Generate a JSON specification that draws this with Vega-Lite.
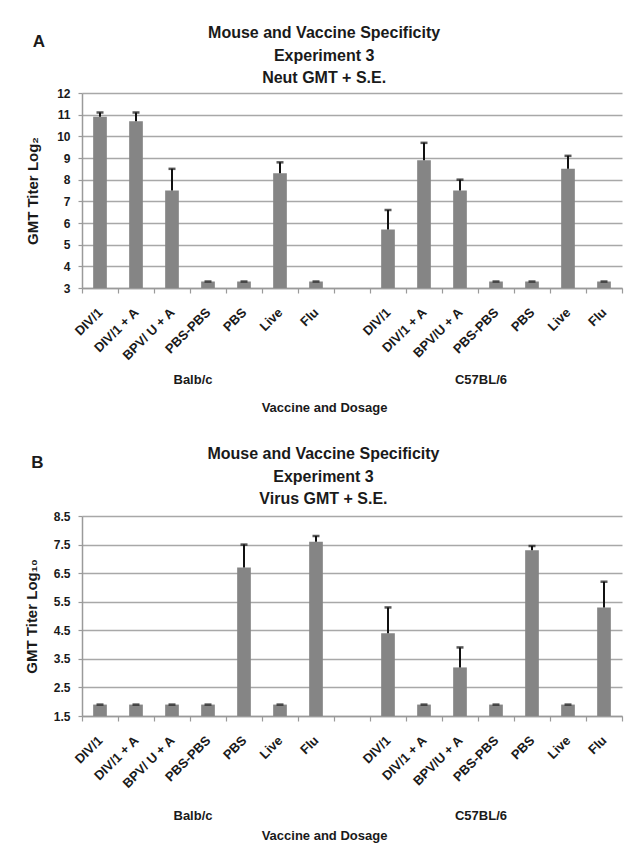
{
  "$schema": "https://vega.github.io/schema/vega-lite/v6.json",
  "padding": {"left": 24, "top": 25, "right": 5, "bottom": 5},
  "spacing": 32,
  "datasets": {
    "neut": [
      {"key": "Balb/c|DIV/1", "value": 10.9, "upper": 11.1},
      {"key": "Balb/c|DIV/1 + A", "value": 10.7, "upper": 11.1},
      {"key": "Balb/c|BPV/ U + A", "value": 7.5, "upper": 8.5},
      {"key": "Balb/c|PBS-PBS", "value": 3.3, "upper": 3.3},
      {"key": "Balb/c|PBS", "value": 3.3, "upper": 3.3},
      {"key": "Balb/c|Live", "value": 8.3, "upper": 8.8},
      {"key": "Balb/c|Flu", "value": 3.3, "upper": 3.3},
      {"key": "C57BL/6|DIV/1", "value": 5.7, "upper": 6.6},
      {"key": "C57BL/6|DIV/1 + A", "value": 8.9, "upper": 9.7},
      {"key": "C57BL/6|BPV/U + A", "value": 7.5, "upper": 8.0},
      {"key": "C57BL/6|PBS-PBS", "value": 3.3, "upper": 3.3},
      {"key": "C57BL/6|PBS", "value": 3.3, "upper": 3.3},
      {"key": "C57BL/6|Live", "value": 8.5, "upper": 9.1},
      {"key": "C57BL/6|Flu", "value": 3.3, "upper": 3.3}
    ],
    "virus": [
      {"key": "Balb/c|DIV/1", "value": 1.9, "upper": 1.9},
      {"key": "Balb/c|DIV/1 + A", "value": 1.9, "upper": 1.9},
      {"key": "Balb/c|BPV/ U + A", "value": 1.9, "upper": 1.9},
      {"key": "Balb/c|PBS-PBS", "value": 1.9, "upper": 1.9},
      {"key": "Balb/c|PBS", "value": 6.7, "upper": 7.5},
      {"key": "Balb/c|Live", "value": 1.9, "upper": 1.9},
      {"key": "Balb/c|Flu", "value": 7.6, "upper": 7.8},
      {"key": "C57BL/6|DIV/1", "value": 4.4, "upper": 5.3},
      {"key": "C57BL/6|DIV/1 + A", "value": 1.9, "upper": 1.9},
      {"key": "C57BL/6|BPV/U + A", "value": 3.2, "upper": 3.9},
      {"key": "C57BL/6|PBS-PBS", "value": 1.9, "upper": 1.9},
      {"key": "C57BL/6|PBS", "value": 7.3, "upper": 7.45},
      {"key": "C57BL/6|Live", "value": 1.9, "upper": 1.9},
      {"key": "C57BL/6|Flu", "value": 5.3, "upper": 6.2}
    ]
  },
  "vconcat": [
    {
      "title": {"text": "A", "anchor": "start", "fontSize": 17, "offset": 0, "dy": 26, "dx": 7},
      "vconcat": [
        {
          "width": 540,
          "height": 195,
          "title": {"text": ["Mouse and Vaccine Specificity", "Experiment 3", "Neut GMT + S.E."], "anchor": "middle", "frame": "bounds", "fontSize": 16, "lineHeight": 22.5, "offset": 1},
          "data": {"name": "neut"},
          "resolve": {"axis": {"x": "independent"}},
          "layer": [
            {
              "mark": {"type": "bar", "color": "#858585", "width": {"band": 0.38}},
              "encoding": {
                "x": {"field": "key", "type": "nominal", "sort": null,
                  "scale": {"domain": ["Balb/c|DIV/1", "Balb/c|DIV/1 + A", "Balb/c|BPV/ U + A", "Balb/c|PBS-PBS", "Balb/c|PBS", "Balb/c|Live", "Balb/c|Flu", "gap", "C57BL/6|DIV/1", "C57BL/6|DIV/1 + A", "C57BL/6|BPV/U + A", "C57BL/6|PBS-PBS", "C57BL/6|PBS", "C57BL/6|Live", "C57BL/6|Flu"], "paddingInner": 0, "paddingOuter": 0},
                  "axis": {"orient": "bottom", "title": null, "labelAngle": -45, "labelAlign": "right", "labelBaseline": "middle", "labelFontSize": 13, "labelExpr": "split(datum.value, '|')[1] || ''", "tickBand": "extent", "tickSize": 5, "labelPadding": 17, "labelOverlap": false, "labelBound": false, "grid": false}},
                "y": {"field": "value", "type": "quantitative",
                  "scale": {"domain": [3, 12], "nice": false, "zero": false},
                  "axis": {"values": [3, 4, 5, 6, 7, 8, 9, 10, 11, 12], "labelOverlap": false, "title": "GMT Titer Log₂", "titleFontSize": 15, "grid": true, "tickSize": 4, "labelPadding": 8, "titlePadding": 16}},
                "y2": {"datum": 3}
              }
            },
            {
              "mark": {"type": "rule", "color": "#111111", "strokeWidth": 2},
              "encoding": {
                "x": {"field": "key", "type": "nominal", "sort": null,
                  "scale": {"domain": ["Balb/c|DIV/1", "Balb/c|DIV/1 + A", "Balb/c|BPV/ U + A", "Balb/c|PBS-PBS", "Balb/c|PBS", "Balb/c|Live", "Balb/c|Flu", "gap", "C57BL/6|DIV/1", "C57BL/6|DIV/1 + A", "C57BL/6|BPV/U + A", "C57BL/6|PBS-PBS", "C57BL/6|PBS", "C57BL/6|Live", "C57BL/6|Flu"], "paddingInner": 0, "paddingOuter": 0},
                  "axis": null},
                "y": {"field": "value", "type": "quantitative",
                  "axis": {"values": [3, 4, 5, 6, 7, 8, 9, 10, 11, 12], "labelOverlap": false, "title": "GMT Titer Log₂", "titleFontSize": 15, "grid": true, "tickSize": 4, "labelPadding": 8, "titlePadding": 16}},
                "y2": {"field": "upper"}
              }
            },
            {
              "mark": {"type": "tick", "color": "#111111", "size": 7, "thickness": 2.5},
              "encoding": {
                "x": {"field": "key", "type": "nominal", "sort": null,
                  "scale": {"domain": ["Balb/c|DIV/1", "Balb/c|DIV/1 + A", "Balb/c|BPV/ U + A", "Balb/c|PBS-PBS", "Balb/c|PBS", "Balb/c|Live", "Balb/c|Flu", "gap", "C57BL/6|DIV/1", "C57BL/6|DIV/1 + A", "C57BL/6|BPV/U + A", "C57BL/6|PBS-PBS", "C57BL/6|PBS", "C57BL/6|Live", "C57BL/6|Flu"], "paddingInner": 0, "paddingOuter": 0},
                  "axis": {"orient": "bottom", "offset": 85, "labelExpr": "datum.value == 'Balb/c|PBS-PBS' ? 'Balb/c' : datum.value == 'C57BL/6|PBS-PBS' ? 'C57BL/6' : ''", "labelAngle": 0, "labelAlign": "center", "labelBaseline": "top", "labelOffset": -15, "ticks": false, "domain": false, "grid": false, "labelPadding": 0, "labelFontSize": 13, "labelOverlap": false, "labelBound": false, "title": "Vaccine and Dosage", "titleX": 242, "titlePadding": 15}},
                "y": {"field": "upper", "type": "quantitative",
                  "axis": {"values": [3, 4, 5, 6, 7, 8, 9, 10, 11, 12], "labelOverlap": false, "title": "GMT Titer Log₂", "titleFontSize": 15, "grid": true, "tickSize": 4, "labelPadding": 8, "titlePadding": 16}}
              }
            }
          ]
        }
      ]
    },
    {
      "title": {"text": "B", "anchor": "start", "fontSize": 17, "offset": 0, "dy": 26, "dx": 7},
      "vconcat": [
        {
          "width": 540,
          "height": 200,
          "title": {"text": ["Mouse and Vaccine Specificity", "Experiment 3", "Virus GMT + S.E."], "anchor": "middle", "frame": "bounds", "fontSize": 16, "lineHeight": 22.5, "offset": 3},
          "data": {"name": "virus"},
          "resolve": {"axis": {"x": "independent"}},
          "layer": [
            {
              "mark": {"type": "bar", "color": "#858585", "width": {"band": 0.38}},
              "encoding": {
                "x": {"field": "key", "type": "nominal", "sort": null,
                  "scale": {"domain": ["Balb/c|DIV/1", "Balb/c|DIV/1 + A", "Balb/c|BPV/ U + A", "Balb/c|PBS-PBS", "Balb/c|PBS", "Balb/c|Live", "Balb/c|Flu", "gap", "C57BL/6|DIV/1", "C57BL/6|DIV/1 + A", "C57BL/6|BPV/U + A", "C57BL/6|PBS-PBS", "C57BL/6|PBS", "C57BL/6|Live", "C57BL/6|Flu"], "paddingInner": 0, "paddingOuter": 0},
                  "axis": {"orient": "bottom", "title": null, "labelAngle": -45, "labelAlign": "right", "labelBaseline": "middle", "labelFontSize": 13, "labelExpr": "split(datum.value, '|')[1] || ''", "tickBand": "extent", "tickSize": 5, "labelPadding": 17, "labelOverlap": false, "labelBound": false, "grid": false}},
                "y": {"field": "value", "type": "quantitative",
                  "scale": {"domain": [1.5, 8.5], "nice": false, "zero": false},
                  "axis": {"values": [1.5, 2.5, 3.5, 4.5, 5.5, 6.5, 7.5, 8.5], "format": ".1f", "labelOverlap": false, "title": "GMT Titer Log₁₀", "titleFontSize": 15, "grid": true, "tickSize": 4, "labelPadding": 8, "titlePadding": 14}},
                "y2": {"datum": 1.5}
              }
            },
            {
              "mark": {"type": "rule", "color": "#111111", "strokeWidth": 2},
              "encoding": {
                "x": {"field": "key", "type": "nominal", "sort": null,
                  "scale": {"domain": ["Balb/c|DIV/1", "Balb/c|DIV/1 + A", "Balb/c|BPV/ U + A", "Balb/c|PBS-PBS", "Balb/c|PBS", "Balb/c|Live", "Balb/c|Flu", "gap", "C57BL/6|DIV/1", "C57BL/6|DIV/1 + A", "C57BL/6|BPV/U + A", "C57BL/6|PBS-PBS", "C57BL/6|PBS", "C57BL/6|Live", "C57BL/6|Flu"], "paddingInner": 0, "paddingOuter": 0},
                  "axis": null},
                "y": {"field": "value", "type": "quantitative",
                  "axis": {"values": [1.5, 2.5, 3.5, 4.5, 5.5, 6.5, 7.5, 8.5], "format": ".1f", "labelOverlap": false, "title": "GMT Titer Log₁₀", "titleFontSize": 15, "grid": true, "tickSize": 4, "labelPadding": 8, "titlePadding": 14}},
                "y2": {"field": "upper"}
              }
            },
            {
              "mark": {"type": "tick", "color": "#111111", "size": 7, "thickness": 2.5},
              "encoding": {
                "x": {"field": "key", "type": "nominal", "sort": null,
                  "scale": {"domain": ["Balb/c|DIV/1", "Balb/c|DIV/1 + A", "Balb/c|BPV/ U + A", "Balb/c|PBS-PBS", "Balb/c|PBS", "Balb/c|Live", "Balb/c|Flu", "gap", "C57BL/6|DIV/1", "C57BL/6|DIV/1 + A", "C57BL/6|BPV/U + A", "C57BL/6|PBS-PBS", "C57BL/6|PBS", "C57BL/6|Live", "C57BL/6|Flu"], "paddingInner": 0, "paddingOuter": 0},
                  "axis": {"orient": "bottom", "offset": 93, "labelExpr": "datum.value == 'Balb/c|PBS-PBS' ? 'Balb/c' : datum.value == 'C57BL/6|PBS-PBS' ? 'C57BL/6' : ''", "labelAngle": 0, "labelAlign": "center", "labelBaseline": "top", "labelOffset": -15, "ticks": false, "domain": false, "grid": false, "labelPadding": 0, "labelFontSize": 13, "labelOverlap": false, "labelBound": false, "title": "Vaccine and Dosage", "titleX": 242, "titlePadding": 7}},
                "y": {"field": "upper", "type": "quantitative",
                  "axis": {"values": [1.5, 2.5, 3.5, 4.5, 5.5, 6.5, 7.5, 8.5], "format": ".1f", "labelOverlap": false, "title": "GMT Titer Log₁₀", "titleFontSize": 15, "grid": true, "tickSize": 4, "labelPadding": 8, "titlePadding": 14}}
              }
            }
          ]
        }
      ]
    }
  ],
  "config": {
    "font": "Liberation Sans",
    "view": {"stroke": null},
    "axis": {
      "labelFont": "Liberation Sans", "labelFontWeight": "bold", "labelFontSize": 12, "labelColor": "#1a1a1a",
      "titleFont": "Liberation Sans", "titleFontWeight": "bold", "titleFontSize": 13, "titleColor": "#1a1a1a",
      "domainColor": "#9a9a9a", "domainWidth": 1.5, "tickColor": "#9a9a9a", "tickWidth": 1.2,
      "gridColor": "#a8a8a8", "gridWidth": 1.5
    },
    "title": {"font": "Liberation Sans", "fontWeight": "bold", "color": "#1a1a1a"}
  }
}
